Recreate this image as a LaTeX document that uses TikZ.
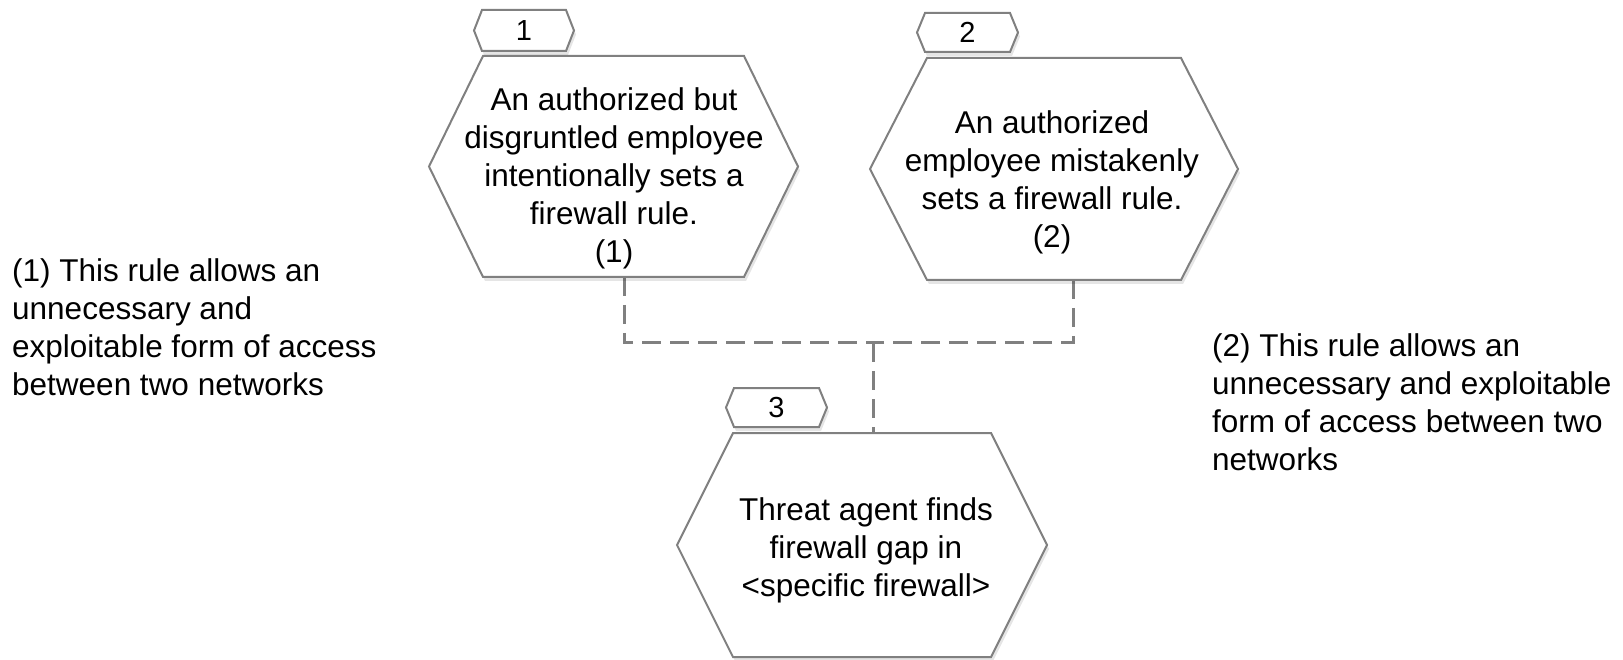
\documentclass[tikz,border=0pt]{standalone}
\usepackage{fontspec}
\setmainfont{Liberation Sans}
\usetikzlibrary{calc}
\definecolor{edgegray}{RGB}{128,128,128}
\definecolor{linkgray}{RGB}{128,128,128}
\tikzset{
  hexframe/.style={draw=none, inner sep=0pt, outer sep=0pt},
  hexline/.style={draw=edgegray, line width=2pt, line join=miter, fill=white},
  hexshade/.style={fill=black, fill opacity=0.10, draw=none},
  bodytext/.style={font=\fontsize{31.5}{38}\selectfont, align=center, inner sep=0pt, anchor=north},
  sidetext/.style={font=\fontsize{31.5}{38}\selectfont, align=left, inner sep=0pt, anchor=north west},
  tagtext/.style={font=\fontsize{29}{34}\selectfont, inner sep=0pt},
  link/.style={draw=linkgray, line width=3pt, dash pattern=on 19pt off 9pt},
}
\newcommand\hexoutline[4]{($(#1.west)+(#3,#4)$) -- ($(#1.north west)+(#2,0)+(#3,#4)$) -- ($(#1.north east)+(-#2,0)+(#3,#4)$) -- ($(#1.east)+(#3,#4)$) -- ($(#1.south east)+(-#2,0)+(#3,#4)$) -- ($(#1.south west)+(#2,0)+(#3,#4)$) -- cycle}
\newcommand\drawhex[2]{\path[hexshade] \hexoutline{#1}{#2}{2}{4};\path[hexline] \hexoutline{#1}{#2}{0}{0};}
\begin{document}
\begin{tikzpicture}[x=1pt,y=-1pt]
\useasboundingbox (0,0) rectangle (1623,660);
% frames
\node[hexframe, minimum width=369pt, minimum height=221pt] (h1) at (613.5,166.5) {};
\node[hexframe, minimum width=368pt, minimum height=222pt] (h2) at (1054,169) {};
\node[hexframe, minimum width=370pt, minimum height=224pt] (h3) at (862,545) {};
\node[hexframe, minimum width=100pt, minimum height=41pt] (g1) at (524,30.5) {};
\node[hexframe, minimum width=101pt, minimum height=39pt] (g2) at (967.5,32.5) {};
\node[hexframe, minimum width=101pt, minimum height=39pt] (g3) at (776.5,407.5) {};
% connectors
\coordinate (j) at (873,343);
\coordinate (a1) at ($(h1.south)+(10.5,0)$);
\coordinate (a2) at ($(h2.south)+(19,0)$);
\coordinate (a3) at ($(h3.north)+(11,0)$);
\draw[link] (a1) |- (j);
\draw[link] (a2) |- (j);
\draw[link] (j) -- (a3);
% shapes
\drawhex{h1}{54}
\drawhex{h2}{57}
\drawhex{h3}{56}
\drawhex{g1}{8}
\drawhex{g2}{8}
\drawhex{g3}{8}
% texts
\node[tagtext] (l1) at (g1) {1};
\node[tagtext] (l2) at (g2) {2};
\node[tagtext] (l3) at (g3) {3};
\node[bodytext] (t1) at (614,87) {An authorized but\\disgruntled employee\\intentionally sets a\\firewall rule.\\(1)};
\node[bodytext] (t2) at (1052,110) {An authorized\\employee mistakenly\\sets a firewall rule.\\(2)};
\node[bodytext] (t3) at (866,497) {Threat agent finds\\firewall gap in\\<specific firewall>};
\node[sidetext] (s1) at (12,258) {(1) This rule allows an\\unnecessary and\\exploitable form of access\\between two networks};
\node[sidetext] (s2) at (1212,333) {(2) This rule allows an\\unnecessary and exploitable\\form of access between two\\networks};
\end{tikzpicture}
\end{document}
